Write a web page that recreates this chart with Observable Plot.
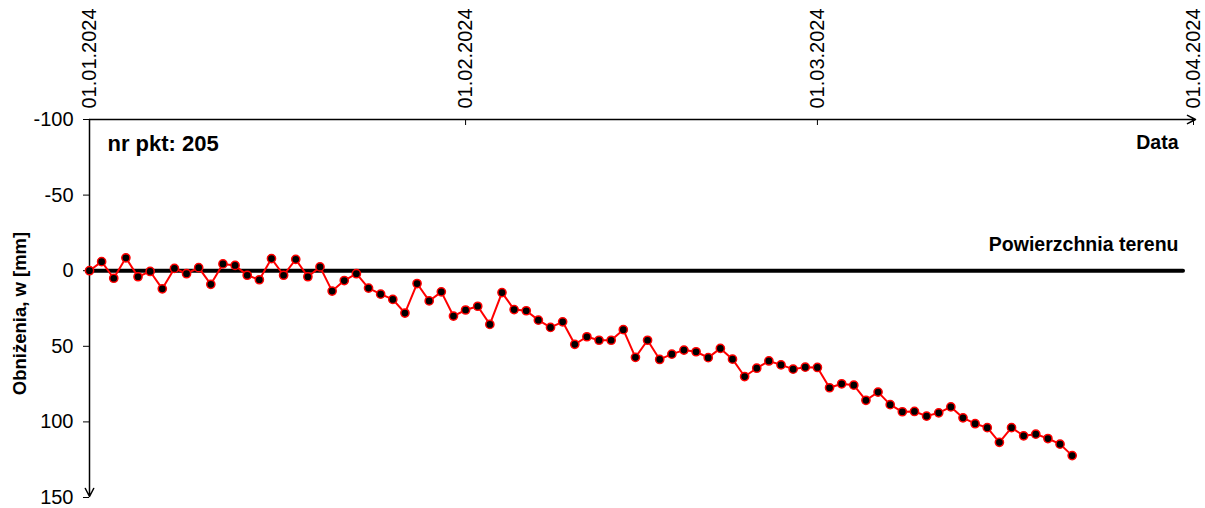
<!DOCTYPE html>
<html>
<head>
<meta charset="utf-8">
<script src="https://cdn.jsdelivr.net/npm/d3@7"></script>
<script src="https://cdn.jsdelivr.net/npm/@observablehq/plot@0.6"></script>
<style>
  html, body { margin: 0; padding: 0; background: #fff; }
</style>
</head>
<body>
<div id="chart"></div>
<script>
const dates = [
  "2024-01-01","2024-01-02","2024-01-03","2024-01-04","2024-01-05","2024-01-06","2024-01-07","2024-01-08","2024-01-09","2024-01-10",
  "2024-01-11","2024-01-12","2024-01-13","2024-01-14","2024-01-15","2024-01-16","2024-01-17","2024-01-18","2024-01-19","2024-01-20",
  "2024-01-21","2024-01-22","2024-01-23","2024-01-24","2024-01-25","2024-01-26","2024-01-27","2024-01-28","2024-01-29","2024-01-30",
  "2024-01-31",
  "2024-02-01","2024-02-02","2024-02-03","2024-02-04","2024-02-05","2024-02-06","2024-02-07","2024-02-08","2024-02-09","2024-02-10",
  "2024-02-11","2024-02-12","2024-02-13","2024-02-14","2024-02-15","2024-02-16","2024-02-17","2024-02-18","2024-02-19","2024-02-20",
  "2024-02-21","2024-02-22","2024-02-23","2024-02-24","2024-02-25","2024-02-26","2024-02-27","2024-02-28","2024-02-29",
  "2024-03-01","2024-03-02","2024-03-03","2024-03-04","2024-03-05","2024-03-06","2024-03-07","2024-03-08","2024-03-09","2024-03-10",
  "2024-03-11","2024-03-12","2024-03-13","2024-03-14","2024-03-15","2024-03-16","2024-03-17","2024-03-18","2024-03-19","2024-03-20",
  "2024-03-21","2024-03-22"
];

const settlement = [
  0, -6, 5, -8.5, 4, 0.5, 12, -1.5, 2, -2,
  9, -4.5, -3.5, 3, 6, -8, 3, -7.5, 4, -2.5,
  13.5, 6.5, 2, 11.5, 15.5, 19, 28, 8.5, 20, 14,
  30,
  26, 23.5, 35.5, 14.5, 25.7, 26.5, 32.7, 37.5, 33.8, 48.7,
  43.7, 46, 46, 39, 57.3, 46, 58.7, 55.2, 52.5, 53.6,
  57.5, 51.4, 58.5, 70, 64.5, 59.7, 62.3, 65.1, 63.8,
  64, 77.4, 74.8, 75.7, 85.7, 80.3, 88.6, 93.3, 93.1, 96.2,
  94, 90.1, 97.3, 101.2, 103.8, 113.5, 103.8, 109.2, 108.1, 111,
  114.7, 122.3
];

const xTickDates = ["2024-01-01", "2024-02-01", "2024-03-01", "2024-04-01"];
const yTicks = [-100, -50, 0, 50, 100, 150];
const yDomain = [-100, 150];

const pointLabel = "nr pkt: 205";
const xTitle = "Data";
const yTitle = "Obniżenia, w [mm]";
const groundLabel = "Powierzchnia terenu";

const data = dates.map((d, i) => ({date: new Date(d), w: settlement[i]}));
const xTicks = xTickDates.map(d => new Date(d));
const xStart = xTicks[0];
const xEnd = xTicks[xTicks.length - 1];
const fmt = d3.utcFormat("%d.%m.%Y");

const chart = Plot.plot({
  width: 1205,
  height: 508,
  marginLeft: 89,
  marginRight: 12,
  marginTop: 119,
  marginBottom: 11,
  style: {
    fontFamily: "'Liberation Sans', Arial, sans-serif",
    fontSize: "20px",
    color: "#000",
    background: "#fff",
    overflow: "visible"
  },
  x: {type: "utc", domain: [xStart, xEnd]},
  y: {domain: yDomain, reverse: true},
  marks: [
    // top x axis labels (rotated)
    Plot.axisX({
      anchor: "top",
      ticks: xTicks,
      tickFormat: fmt,
      tickRotate: -90,
      tickSize: 0,
      tickPadding: 11,
      fontSize: 20,
      label: null
    }),
    // inward tick marks on top axis
    Plot.axisX({
      anchor: "top",
      ticks: xTicks,
      tickFormat: () => "",
      tickSize: -5,
      label: null
    }),
    Plot.axisY({
      anchor: "left",
      ticks: yTicks,
      tickFormat: d => String(d),
      tickSize: 6,
      tickPadding: 10,
      fontSize: 20,
      label: null
    }),
    // axis lines with arrows
    Plot.arrow([{x1: xStart, x2: xEnd, y1: yDomain[0], y2: yDomain[0]}], {
      x1: "x1", x2: "x2", y1: "y1", y2: "y2",
      stroke: "black", strokeWidth: 1.5, headLength: 9, headAngle: 55, insetEnd: -2
    }),
    Plot.arrow([{x1: xStart, x2: xStart, y1: yDomain[0], y2: yDomain[1]}], {
      x1: "x1", x2: "x2", y1: "y1", y2: "y2",
      stroke: "black", strokeWidth: 1.5, headLength: 9, headAngle: 55, insetEnd: 1
    }),
    // ground surface line
    Plot.ruleY([0], {stroke: "black", strokeWidth: 4, insetRight: 10, strokeLinecap: "round"}),
    // series
    Plot.line(data, {x: "date", y: "w", stroke: "red", strokeWidth: 2}),
    Plot.dot(data, {x: "date", y: "w", r: 4.1, fill: "black", stroke: "red", strokeWidth: 1.5}),
    // texts
    Plot.text([pointLabel], {
      frameAnchor: "top-left", textAnchor: "start", lineAnchor: "middle",
      dx: 18, dy: 24, fontSize: 22, fontWeight: "bold", fill: "black"
    }),
    Plot.text([xTitle], {
      frameAnchor: "top-right", textAnchor: "end", lineAnchor: "middle",
      dx: -15, dy: 23, fontSize: 19.5, fontWeight: "bold", fill: "black"
    }),
    Plot.text([groundLabel], {
      y: [0], frameAnchor: "right", textAnchor: "end", lineAnchor: "middle",
      dx: -15, dy: -26, fontSize: 19.5, fontWeight: "bold", fill: "black"
    }),
    Plot.text([yTitle], {
      frameAnchor: "left", rotate: -90, textAnchor: "middle", lineAnchor: "middle",
      dx: -69, dy: 5, fontSize: 18.5, fontWeight: "bold", fill: "black"
    })
  ]
});

document.getElementById("chart").appendChild(chart);
</script>
</body>
</html>
